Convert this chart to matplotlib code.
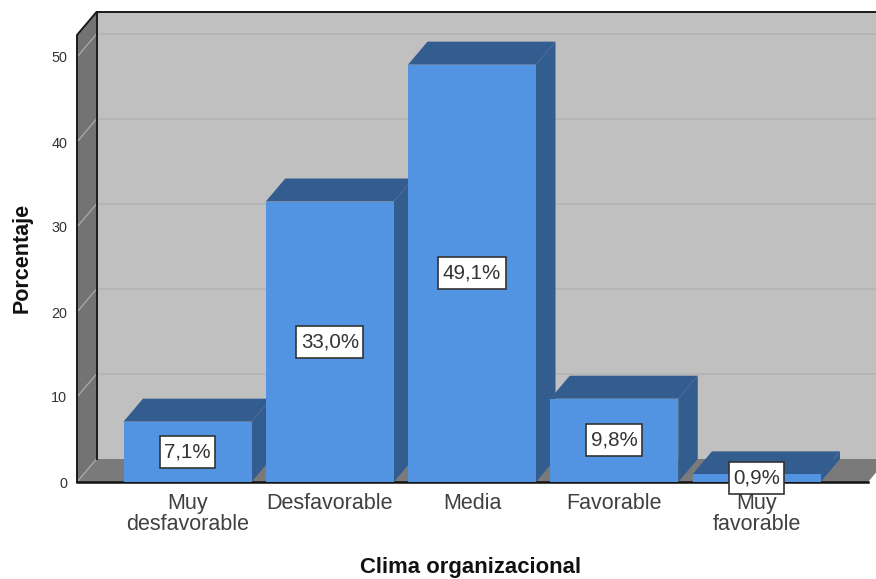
import matplotlib
matplotlib.use("Agg")
import matplotlib.pyplot as plt
from matplotlib.patches import Polygon, Rectangle

plt.rcParams['font.family'] = ['Liberation Sans', 'DejaVu Sans']

categories = ["Muy\ndesfavorable", "Desfavorable", "Media", "Favorable", "Muy\nfavorable"]
values = [7.1, 33.0, 49.1, 9.8, 0.9]
labels = ["7,1%", "33,0%", "49,1%", "9,8%", "0,9%"]
y_ticks = [0, 10, 20, 30, 40, 50]

W, H = 876, 579
# front plane of the 3D box, in pixels
LEFT, RIGHT, TOP, BOTTOM = 77, 868, 35, 482
PX_PER_CAT = 142.25
PX_PER_UNIT = 8.5
DX = 19.5 / PX_PER_CAT
DY = 23 / PX_PER_UNIT
BAR_W = 128 / PX_PER_CAT

WALL = "#737373"
FLOOR = "#7a7a7a"
BACK = "#c0c0c0"
FRONT = "#5294e2"
DARK = "#335c8f"

fig = plt.figure(figsize=(W / 100, H / 100), dpi=100)
ax = fig.add_axes([LEFT / W, 1 - BOTTOM / H, (RIGHT - LEFT) / W, (BOTTOM - TOP) / H])
x0 = (LEFT - 187.5) / PX_PER_CAT
x1 = (RIGHT - 187.5) / PX_PER_CAT
y1 = (BOTTOM - TOP) / PX_PER_UNIT
ax.set_xlim(x0, x1)
ax.set_ylim(0, y1)
ax.patch.set_visible(False)
for s in ax.spines.values():
    s.set_visible(False)


def poly(pts, color, z):
    ax.add_patch(Polygon(pts, closed=True, facecolor=color, edgecolor="none",
                         clip_on=False, zorder=z))


# box walls
poly([(x0 + DX, DY), (x1 + DX, DY), (x1 + DX, y1 + DY), (x0 + DX, y1 + DY)], BACK, 1)
poly([(x0, 0), (x0 + DX, DY), (x0 + DX, y1 + DY), (x0, y1)], WALL, 1)
poly([(x0, 0), (x1, 0), (x1 + DX, DY), (x0 + DX, DY)], FLOOR, 1)

# gridlines on back wall and side wall
for t in y_ticks:
    if t > 0:
        ax.plot([x0 + DX, x1 + DX], [t + DY, t + DY], color="#b3b3b3", lw=1.2,
                clip_on=False, zorder=1.2)
    ax.plot([x0, x0 + DX], [t, t + DY], color="#a6a6a6", lw=1, clip_on=False, zorder=1.2)

# box outline
ax.plot([x0, x0, x0 + DX, x1 + DX], [0, y1, y1 + DY, y1 + DY], color="#1a1a1a", lw=1.4,
        clip_on=False, zorder=1.5)
ax.plot([x0 + DX, x0 + DX], [DY, y1 + DY], color="#1a1a1a", lw=1.4, clip_on=False, zorder=1.5)
ax.plot([x0, x1], [0, 0], color="#111111", lw=1.8, clip_on=False, zorder=1.5)

# bars, left to right so each front hides the side of the previous one
for i, v in enumerate(values):
    l, r = i - BAR_W / 2, i + BAR_W / 2
    z = 2 + i * 0.1
    poly([(l, v), (r, v), (r + DX, v + DY), (l + DX, v + DY)], DARK, z)
    poly([(r, 0), (r + DX, DY), (r + DX, v + DY), (r, v)], DARK, z)
    ax.bar(i, v, width=BAR_W, color=FRONT, zorder=z + 0.01, clip_on=False)

# value labels: box is taller than a text bbox would give, so it is drawn from the text extent
renderer = fig.canvas.get_renderer()
for i, (v, lab) in enumerate(zip(values, labels)):
    t = ax.text(i, v / 2, lab, ha="center", va="center", fontsize=14.8, color="#333333", zorder=11)
    box_w = (t.get_window_extent(renderer).width + 9) / PX_PER_CAT
    box_h = 32 / PX_PER_UNIT
    ax.add_patch(Rectangle((i - box_w / 2, v / 2 - box_h / 2), box_w, box_h, facecolor="white",
                           edgecolor="#333333", lw=1.2, clip_on=False, zorder=10))

ax.set_xticks(range(len(categories)))
ax.set_xticklabels(categories, fontsize=15.5, color="#404040", linespacing=1.0)
ax.set_yticks(y_ticks)
ax.set_yticklabels([str(t) for t in y_ticks], fontsize=10.4, color="#333333")
ax.tick_params(axis="x", length=0, pad=8)
ax.tick_params(axis="y", length=0, pad=7)

ax.set_xlabel("Clima organizacional", fontsize=15.9, fontweight="bold", color="#111111")
ax.xaxis.set_label_coords((471 - LEFT) / (RIGHT - LEFT), -(567 - BOTTOM) / (BOTTOM - TOP))
ax.xaxis.label.set_va("center")
ax.set_ylabel("Porcentaje", fontsize=15.5, fontweight="bold", color="#111111")
ax.yaxis.set_label_coords((22 - LEFT) / (RIGHT - LEFT), (BOTTOM - 258) / (BOTTOM - TOP))
ax.yaxis.label.set_va("center")

fig.savefig("out.png", dpi=100)
